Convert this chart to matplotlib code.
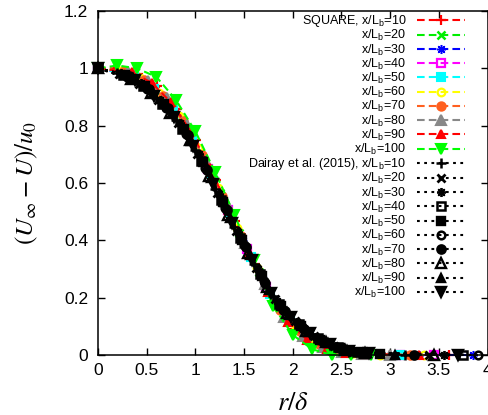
import matplotlib
matplotlib.use('Agg')
import matplotlib.pyplot as plt
from matplotlib.ticker import FormatStrFormatter

plt.rcParams['font.family'] = ['Liberation Sans', 'DejaVu Sans']
plt.rcParams['mathtext.fontset'] = 'custom'
plt.rcParams['mathtext.rm'] = 'Liberation Sans'
plt.rcParams['mathtext.it'] = 'Liberation Sans:italic'
plt.rcParams['lines.scale_dashes'] = False

# SQUARE simulation, x/Lb = 10 ... 100
sq_r10 = [0, 0.21, 0.41, 0.61, 0.81, 1.01, 1.21, 1.41, 1.61, 1.81, 2.01, 2.21, 2.41, 2.61, 3.0, 3.6]
sq_u10 = [1.0, 1.0, 0.981, 0.939, 0.859, 0.75, 0.61, 0.466, 0.319, 0.178, 0.089, 0.039, 0.014, 0.005, 0.0, 0.0]
sq_r20 = [0, 0.25, 0.45, 0.65, 0.85, 1.05, 1.25, 1.45, 1.65, 1.85, 2.05, 2.25, 2.45, 2.65, 3.1]
sq_u20 = [1.0, 0.988, 0.958, 0.904, 0.819, 0.706, 0.565, 0.427, 0.29, 0.17, 0.094, 0.046, 0.019, 0.008, 0.0]
sq_r30 = [0, 0.29, 0.49, 0.69, 0.89, 1.09, 1.29, 1.49, 1.69, 1.89, 2.09, 2.29, 2.49, 2.69, 3.3, 3.85]
sq_u30 = [1.0, 0.98, 0.944, 0.883, 0.793, 0.674, 0.532, 0.396, 0.264, 0.155, 0.088, 0.043, 0.018, 0.007, 0.0, 0.0]
sq_r40 = [0, 0.33, 0.53, 0.73, 0.93, 1.13, 1.33, 1.53, 1.73, 1.93, 2.13, 2.33, 2.53, 2.73, 3.1, 3.45]
sq_u40 = [1.0, 0.977, 0.936, 0.87, 0.775, 0.648, 0.506, 0.37, 0.238, 0.137, 0.074, 0.035, 0.014, 0.005, 0.0, 0.0]
sq_r50 = [0, 0.37, 0.57, 0.77, 0.97, 1.17, 1.37, 1.57, 1.77, 1.97, 2.17, 2.37, 2.57, 2.77, 3.1]
sq_u50 = [1.0, 0.973, 0.929, 0.857, 0.755, 0.623, 0.482, 0.343, 0.213, 0.119, 0.062, 0.028, 0.01, 0.005, 0.0]
sq_r60 = [0, 0.23, 0.43, 0.63, 0.83, 1.03, 1.23, 1.43, 1.63, 1.83, 2.03, 2.23, 2.43, 2.63, 2.9, 3.35]
sq_u60 = [1.0, 0.991, 0.965, 0.915, 0.832, 0.722, 0.583, 0.442, 0.303, 0.178, 0.097, 0.047, 0.02, 0.008, 0.0, 0.0]
sq_r70 = [0, 0.27, 0.47, 0.67, 0.87, 1.07, 1.27, 1.47, 1.67, 1.87, 2.07, 2.27, 2.47, 2.67, 3.2]
sq_u70 = [1.0, 0.989, 0.959, 0.904, 0.816, 0.699, 0.556, 0.416, 0.276, 0.156, 0.082, 0.038, 0.015, 0.006, 0.0]
sq_r80 = [0, 0.31, 0.51, 0.71, 0.91, 1.11, 1.31, 1.51, 1.71, 1.91, 2.11, 2.31, 2.51, 2.71, 3.0]
sq_u80 = [1.0, 0.988, 0.957, 0.895, 0.802, 0.677, 0.532, 0.39, 0.248, 0.133, 0.066, 0.028, 0.009, 0.004, 0.0]
sq_r90 = [0, 0.35, 0.55, 0.75, 0.95, 1.15, 1.35, 1.55, 1.75, 1.95, 2.15, 2.35, 2.55, 2.75, 3.3]
sq_u90 = [1.0, 0.986, 0.95, 0.881, 0.782, 0.651, 0.506, 0.361, 0.219, 0.115, 0.053, 0.021, 0.007, 0.003, 0.0]
sq_r100 = [0, 0.2, 0.4, 0.6, 0.8, 1.0, 1.2, 1.4, 1.6, 1.8, 2.0, 2.2, 2.4, 2.6, 2.8]
sq_u100 = [1.0, 1.01, 1.0, 0.97, 0.89, 0.78, 0.64, 0.49, 0.33, 0.17, 0.07, 0.02, 0.0, 0.0, 0.0]

# Dairay et al. (2015), x/Lb = 10 ... 100
da_r10 = [0, 0.2, 0.4, 0.6, 0.8, 1.0, 1.2, 1.4, 1.6, 1.8, 2.0, 2.2, 2.4, 2.6, 3.15]
da_u10 = [1.0, 0.985, 0.952, 0.895, 0.82, 0.715, 0.58, 0.445, 0.318, 0.205, 0.127, 0.072, 0.036, 0.014, 0.0]
da_r20 = [0, 0.22, 0.42, 0.62, 0.82, 1.02, 1.22, 1.42, 1.62, 1.82, 2.02, 2.22, 2.42, 2.62, 3.4]
da_u20 = [1.0, 0.98, 0.947, 0.89, 0.81, 0.70, 0.565, 0.432, 0.305, 0.195, 0.12, 0.066, 0.033, 0.012, 0.0]
da_r30 = [0, 0.24, 0.44, 0.64, 0.84, 1.04, 1.24, 1.44, 1.64, 1.84, 2.04, 2.24, 2.44, 2.64, 3.55]
da_u30 = [1.0, 0.982, 0.948, 0.89, 0.81, 0.70, 0.562, 0.428, 0.30, 0.19, 0.115, 0.063, 0.03, 0.011, 0.0]
da_r40 = [0, 0.26, 0.46, 0.66, 0.86, 1.06, 1.26, 1.46, 1.66, 1.86, 2.06, 2.26, 2.46, 2.66, 3.75]
da_u40 = [1.0, 0.976, 0.937, 0.875, 0.79, 0.676, 0.54, 0.408, 0.282, 0.178, 0.108, 0.058, 0.027, 0.01, 0.0]
da_r50 = [0, 0.28, 0.48, 0.68, 0.88, 1.08, 1.28, 1.48, 1.68, 1.88, 2.08, 2.28, 2.48, 2.68, 2.9]
da_u50 = [1.0, 0.978, 0.94, 0.876, 0.79, 0.672, 0.532, 0.40, 0.275, 0.17, 0.10, 0.054, 0.024, 0.009, 0.003]
da_r60 = [0, 0.30, 0.50, 0.70, 0.90, 1.10, 1.30, 1.50, 1.70, 1.90, 2.10, 2.30, 2.50, 2.70, 3.9]
da_u60 = [1.0, 0.97, 0.928, 0.862, 0.772, 0.652, 0.512, 0.382, 0.258, 0.158, 0.094, 0.049, 0.021, 0.008, 0.0]
da_r70 = [0, 0.32, 0.52, 0.72, 0.92, 1.12, 1.32, 1.52, 1.72, 1.92, 2.12, 2.32, 2.52, 2.72, 3.25]
da_u70 = [1.0, 0.972, 0.928, 0.86, 0.768, 0.645, 0.505, 0.375, 0.252, 0.155, 0.091, 0.047, 0.02, 0.008, 0.0]
da_r80 = [0, 0.34, 0.54, 0.74, 0.94, 1.14, 1.34, 1.54, 1.74, 1.94, 2.14, 2.34, 2.54, 2.74, 3.45]
da_u80 = [1.0, 0.962, 0.914, 0.845, 0.75, 0.625, 0.487, 0.357, 0.237, 0.146, 0.085, 0.044, 0.018, 0.007, 0.0]
da_r90 = [0, 0.36, 0.56, 0.76, 0.96, 1.16, 1.36, 1.56, 1.76, 1.96, 2.16, 2.36, 2.56, 2.76, 3.05]
da_u90 = [1.0, 0.965, 0.915, 0.845, 0.745, 0.616, 0.478, 0.348, 0.228, 0.14, 0.08, 0.041, 0.016, 0.006, 0.0]
da_r100 = [0, 0.38, 0.58, 0.78, 0.98, 1.18, 1.38, 1.58, 1.78, 1.98, 2.18, 2.38, 2.58, 2.78, 3.7]
da_u100 = [1.0, 0.958, 0.904, 0.83, 0.728, 0.597, 0.462, 0.333, 0.217, 0.133, 0.075, 0.038, 0.015, 0.006, 0.0]

positions = [10, 20, 30, 40, 50, 60, 70, 80, 90, 100]
sq_data = [(sq_r10, sq_u10), (sq_r20, sq_u20), (sq_r30, sq_u30), (sq_r40, sq_u40), (sq_r50, sq_u50),
           (sq_r60, sq_u60), (sq_r70, sq_u70), (sq_r80, sq_u80), (sq_r90, sq_u90), (sq_r100, sq_u100)]
da_data = [(da_r10, da_u10), (da_r20, da_u20), (da_r30, da_u30), (da_r40, da_u40), (da_r50, da_u50),
           (da_r60, da_u60), (da_r70, da_u70), (da_r80, da_u80), (da_r90, da_u90), (da_r100, da_u100)]

sq_colors = ['#ff0000', '#00ee00', '#0000ff', '#ff00ff', '#00ffff',
             '#ffff00', '#ff6020', '#888888', '#ff0000', '#00ff00']
# gnuplot-ish point types: (marker, filled, size, edge width)
pts = [('+', True, 6.5, 1.6), ('x', True, 5.5, 1.8), ((8, 2, 0), True, 6.5, 1.1), ('s', False, 5.5, 1.6),
       ('s', True, 6, 1.5), ('o', False, 5.5, 1.6), ('o', True, 6, 1.5), ('^', True, 7, 1.5),
       ('^', True, 5.2, 1.5), ('v', True, 7, 1.5)]

fig = plt.figure(figsize=(4.89, 4.15), dpi=100)
ax = fig.add_axes([0.2004, 0.1446, 0.7966, 0.8289])

for i, (r, u) in enumerate(sq_data):
    m, filled, ms, mew = pts[i]
    c = sq_colors[i]
    if i == 0:
        lab = 'SQUARE, x/L$_{\\rm b}$=%d' % positions[i]
    else:
        lab = 'x/L$_{\\rm b}$=%d' % positions[i]
    ax.plot(r, u, color=c, lw=1.5, dashes=(5.5, 3), marker=m, ms=ms, mew=mew,
            mfc=c if filled else 'none', mec=c, label=lab, clip_on=False)

for i, (r, u) in enumerate(da_data):
    m, filled, ms, mew = pts[i]
    if i == 7:
        filled = False
    if i == 0:
        lab = 'Dairay et al. (2015), x/L$_{\\rm b}$=%d' % positions[i]
    else:
        lab = 'x/L$_{\\rm b}$=%d' % positions[i]
    ax.plot(r, u, color='black', lw=1.5, dashes=(2, 3.2), marker=m, ms=ms, mew=mew + 0.2,
            mfc='black' if filled else 'none', mec='black', label=lab, clip_on=False)

ax.set_xlim(0, 4)
ax.set_ylim(0, 1.2)
ax.set_xticks([0, 0.5, 1, 1.5, 2, 2.5, 3, 3.5, 4])
ax.set_yticks([0, 0.2, 0.4, 0.6, 0.8, 1.0, 1.2])
ax.xaxis.set_major_formatter(FormatStrFormatter('%g'))
ax.yaxis.set_major_formatter(FormatStrFormatter('%g'))
ax.tick_params(direction='in', top=True, right=True, length=5, width=1, labelsize=12.5)
ax.tick_params(axis='x', pad=6)
ax.tick_params(axis='y', pad=7)
for sp in ax.spines.values():
    sp.set_linewidth(1.1)

ax.set_xlabel('$r/\\delta$', fontsize=19, math_fontfamily='stix', labelpad=9)
ax.set_ylabel('$(U_\\infty - U)/u_0$', fontsize=18, math_fontfamily='stix', labelpad=17)

ax.legend(loc='upper right', bbox_to_anchor=(0.942, 0.994), frameon=False, markerfirst=False,
          fontsize=9, handlelength=3.8, handletextpad=0.9, labelspacing=-0.07, borderpad=0,
          borderaxespad=0, numpoints=1)

fig.savefig('out.png', dpi=100)
